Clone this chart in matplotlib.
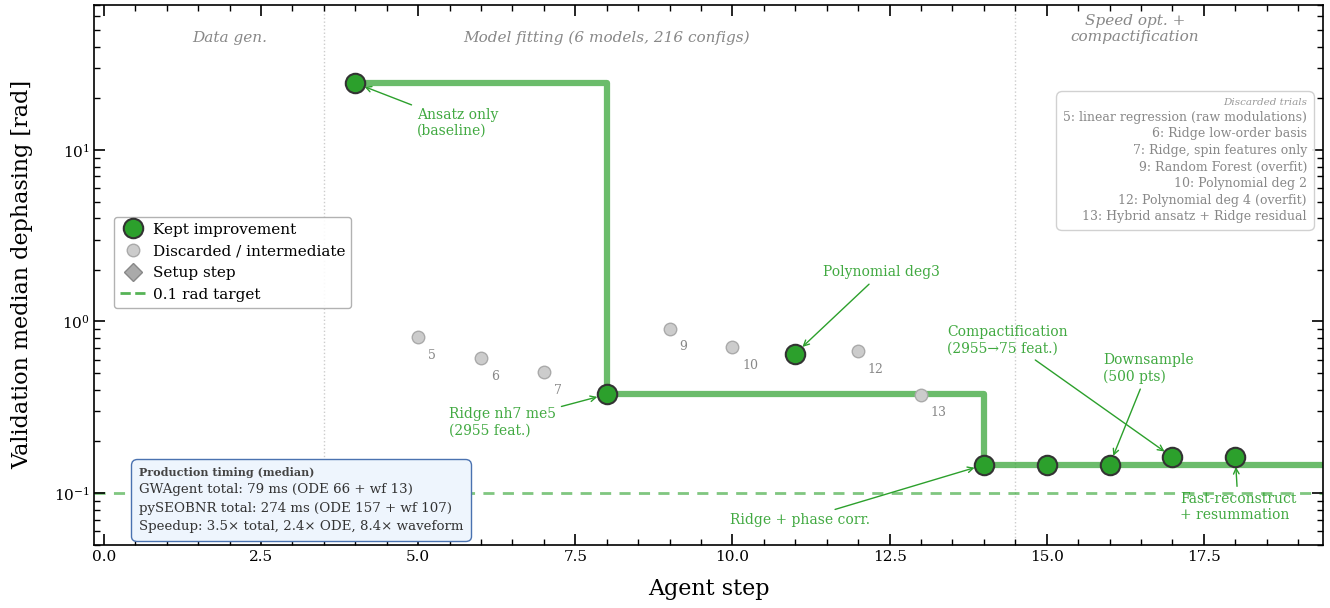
import numpy as np
import matplotlib
matplotlib.use("Agg")
import matplotlib.pyplot as plt
from matplotlib.lines import Line2D
from matplotlib.offsetbox import TextArea, VPacker, AnchoredOffsetbox

plt.rcParams['font.family'] = ['DejaVu Serif']
plt.rcParams['mathtext.fontset'] = 'dejavuserif'

# kept improvements
kept_steps = [4, 8, 11, 14, 15, 16, 17, 18]
kept_vals = [24.5, 0.376, 0.65, 0.146, 0.146, 0.146, 0.162, 0.162]

# discarded trials
disc_steps = [5, 6, 7, 9, 10, 12, 13]
disc_vals = [0.81, 0.61, 0.505, 0.91, 0.71, 0.67, 0.375]

disc_names = ["linear regression (raw modulations)", "Ridge low-order basis",
              "Ridge, spin features only", "Random Forest (overfit)",
              "Polynomial deg 2", "Polynomial deg 4 (overfit)",
              "Hybrid ansatz + Ridge residual"]

target = 0.1

# annotations: (label, step, value, text x, text y, ha)
notes = [
    ("Ansatz only\n(baseline)", 4, 24.5, 4.98, 14.4, "left"),
    ("Polynomial deg3", 11, 0.65, 12.37, 1.93, "center"),
    ("Ridge nh7 me5\n(2955 feat.)", 8, 0.376, 5.49, 0.259, "left"),
    ("Ridge + phase corr.", 14, 0.146, 11.07, 0.0697, "center"),
    ("Compactification\n(2955\u219275 feat.)", 17, 0.162, 13.42, 0.775, "left"),
    ("Downsample\n(500 pts)", 16, 0.146, 15.9, 0.533, "left"),
    ("Fast-reconstruct\n+ resummation", 18, 0.162, 17.12, 0.083, "left"),
]

phases = [("Data gen.", 2.0, 0.939), ("Model fitting (6 models, 216 configs)", 8.0, 0.939),
          ("Speed opt. +\ncompactification", 16.4, 0.955)]
phase_bounds = [3.5, 14.5]

green = '#2ca02c'
xmin, xmax = -0.15, 19.4

fig, ax = plt.subplots(figsize=(13.3, 6.08), dpi=100)
fig.subplots_adjust(left=0.071, right=0.995, top=0.992, bottom=0.104)

ax.set_yscale('log')
ax.set_xlim(xmin, xmax)
ax.set_ylim(0.05, 70)

for b in phase_bounds:
    ax.axvline(b, color='#cccccc', ls=':', lw=1, zorder=0)
for name, xc, yf in phases:
    ax.text(xc, yf, name, transform=ax.get_xaxis_transform(),
            ha='center', va='center', style='italic', color='#888888', fontsize=11,
            linespacing=1.2)

# best-so-far line
best = np.minimum.accumulate(kept_vals)
bx = list(kept_steps) + [xmax + 1]
by = list(best) + [best[-1]]
ax.step(bx, by, where='post', color=green, alpha=0.7, lw=4.5, zorder=2)

ax.axhline(target, color=green, ls='--', lw=2, alpha=0.6, dashes=(4, 3), zorder=1)

ax.plot(disc_steps, disc_vals, 'o', ms=9, mfc='#cccccc', mec='#aaaaaa', mew=1, ls='none', zorder=3)
for s, v in zip(disc_steps, disc_vals):
    ax.annotate(str(s), (s, v), xytext=(7, -13), textcoords='offset points',
                fontsize=9, color='#888888', ha='left', va='center')

ax.plot(kept_steps, kept_vals, 'o', ms=14, mfc=green, mec='#333333', mew=1.5, ls='none', zorder=4)

for label, s, v, tx, ty, ha in notes:
    ax.annotate(label, (s, v), xytext=(tx, ty), textcoords='data', ha=ha, va='center',
                fontsize=10, color=green, alpha=0.9,
                arrowprops=dict(arrowstyle='->', color=green, lw=1, shrinkA=2, shrinkB=7))

# legend
handles = [
    Line2D([], [], marker='o', ls='none', ms=14, mfc=green, mec='#333333', mew=1.5, label='Kept improvement'),
    Line2D([], [], marker='o', ls='none', ms=9, mfc='#cccccc', mec='#aaaaaa', label='Discarded / intermediate'),
    Line2D([], [], marker='D', ls='none', ms=9, mfc='#aaaaaa', mec='#888888', label='Setup step'),
    Line2D([], [], color=green, ls='--', lw=2, alpha=0.8, label='0.1 rad target'),
]
ax.legend(handles=handles, loc='upper left', bbox_to_anchor=(0.01, 0.622), fontsize=11,
          framealpha=0.9, edgecolor='#aaaaaa', handletextpad=0.5, borderpad=0.4,
          labelspacing=0.5, handlelength=1.6)

# discarded trials box
rows = [TextArea("Discarded trials", textprops=dict(style='italic', color='#999999', fontsize=7.5))]
for s, n in zip(disc_steps, disc_names):
    rows.append(TextArea(f"{s}: {n}", textprops=dict(color='#888888', fontsize=9)))
box = AnchoredOffsetbox(loc='upper right', child=VPacker(children=rows, align='right', pad=0, sep=2.6),
                        bbox_to_anchor=(0.99, 0.835), bbox_transform=ax.transAxes,
                        frameon=True, pad=0.3, borderpad=0)
box.patch.set_boxstyle('round,pad=0.2,rounding_size=0.4')
box.patch.set_edgecolor('#cccccc')
box.patch.set_facecolor('white')
box.patch.set_alpha(0.9)
ax.add_artist(box)

# timing box
timing = ["GWAgent total: 79 ms (ODE 66 + wf 13)",
          "pySEOBNR total: 274 ms (ODE 157 + wf 107)",
          "Speedup: 3.5\u00d7 total, 2.4\u00d7 ODE, 8.4\u00d7 waveform"]
rows2 = [TextArea("Production timing (median)", textprops=dict(weight='bold', color='#444444', fontsize=8))]
for t in timing:
    rows2.append(TextArea(t, textprops=dict(color='#333333', fontsize=9.6)))
tbox = AnchoredOffsetbox(loc='lower left', child=VPacker(children=rows2, align='left', pad=0, sep=4),
                         bbox_to_anchor=(0.032, 0.012), bbox_transform=ax.transAxes,
                         frameon=True, pad=0.35, borderpad=0)
tbox.patch.set_boxstyle('round,pad=0.2,rounding_size=0.4')
tbox.patch.set_edgecolor('#4a72b0')
tbox.patch.set_facecolor('#eef5fd')
ax.add_artist(tbox)

ax.set_xlabel('Agent step', fontsize=16, labelpad=10)
ax.set_ylabel('Validation median dephasing [rad]', fontsize=16, labelpad=15)
ax.xaxis.set_minor_locator(matplotlib.ticker.MultipleLocator(0.5))
ax.tick_params(which='both', direction='in', top=True, right=True, labelsize=11)
ax.tick_params(which='major', length=8, width=1.2)
ax.tick_params(which='minor', length=4, width=1)
for sp in ax.spines.values():
    sp.set_linewidth(1.2)

fig.savefig('out.png', dpi=100)
